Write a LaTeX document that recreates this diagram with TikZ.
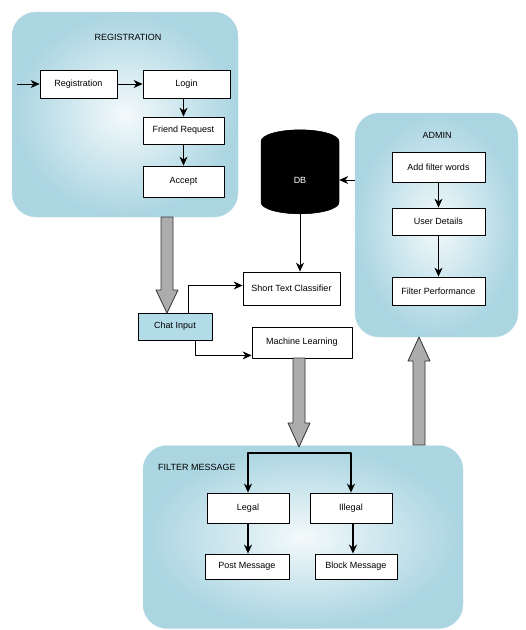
\documentclass[tikz,border=0pt]{standalone}
\usepackage{fontspec}
\setmainfont{Liberation Sans}
\usetikzlibrary{shapes.geometric,calc,arrows.meta}
\definecolor{panelblue}{RGB}{160,208,222}
\definecolor{chatblue}{RGB}{178,220,232}
% fat grey arrow: x, start y, head base y, tip y
\newcommand{\fatarr}[4]{%
	\draw[fatarrow] (#1-6,#2)--(#1+6,#2)--(#1+6,#3)--(#1+11,#3)--(#1,#4)--(#1-11,#3)--(#1-6,#3)--cycle;}
\begin{document}
\begin{tikzpicture}[x=1pt, y=-1pt, font=\fontsize{9}{10}\selectfont, line join=round, >={Stealth[length=9pt,width=8pt]},
	panel/.style={rounded corners=24pt, draw=panelblue!70, inner color=panelblue!12, outer color=panelblue!90, inner sep=0pt},
	box/.style={draw, thick, fill=white, inner sep=1pt},
	fatarrow/.style={draw=black!80, thick, fill=gray!65},
	thk/.style={line width=1.8pt}]
	\useasboundingbox (0,0) rectangle (526,630);
	
	% panels
	\node[panel, minimum width=226pt, minimum height=205pt] (regpanel) at (125,114.5) {};
	\node[panel, minimum width=163pt, minimum height=224pt] (admpanel) at (436.5,225) {};
	\node[panel, minimum width=320pt, minimum height=183pt] (filtpanel) at (303,537) {};
	\node (regtitle) at (128,37) {REGISTRATION};
	\node (admtitle) at (437,135) {ADMIN};
	\node[anchor=west, inner sep=0pt] (filttitle) at (158,467) {FILTER MESSAGE};
	
	% registration
	\node[box, minimum width=77pt, minimum height=28pt] (reg) at (78.5,84) {Registration};
	\node[box, minimum width=87pt, minimum height=28pt] (login) at (186.5,84) {Login};
	\node[box, minimum width=81pt, minimum height=27pt] (friend) at (183.5,130.5) {Friend Request};
	\node[box, minimum width=81pt, minimum height=31pt] (accept) at (183.5,181.5) {Accept};
	\coordinate (start) at (17,84);
	\draw[thick,->] (start)--(reg);
	\draw[thick,->] (reg)--(login);
	\draw[thick,->] (login.south -| friend) --(friend);
	\draw[thick,->] (friend)--(accept);
	
	% database and admin
	\node[cylinder, shape border rotate=90, aspect=1.2, draw, fill=black,
		cylinder uses custom fill, cylinder body fill=black, cylinder end fill=black!70,
		minimum width=78pt, minimum height=84pt, text=white] (db) at (300,180) {DB};
	\node[box, minimum width=93pt, minimum height=30pt] (addfilter) at (438.5,167) {Add filter words};
	\node[box, minimum width=93pt, minimum height=27pt] (user) at (438.5,221.5) {User Details};
	\node[box, minimum width=93pt, minimum height=28pt] (perf) at (438.5,291) {Filter Performance};
	\draw[thick,->] (addfilter)--(user);
	\draw[thick,->] (user)--(perf);
	\draw[thick,->] (admpanel.west |- db.east)--(db.east);
	
	% chat input and classifiers
	\node[box, fill=chatblue, minimum width=74pt, minimum height=27pt] (chat) at (175,326.5) {Chat Input};
	\node[box, minimum width=97pt, minimum height=33pt] (stc) at (291.5,288.5) {Short Text Classifier};
	\node[box, minimum width=100pt, minimum height=31pt] (ml) at (302,342.5) {Machine Learning};
	\draw[thick,->] (db.south)--(db.south |- stc.north);
	\draw[thick,->] ($(chat.north)+(13,0)$) |- ($(stc.west)+(0,-3)$);
	\draw[thick,->] ($(chat.south)+(20,0)$) |- ($(ml.south west)+(0,-3)$);
	
	% filter message
	\node[box, minimum width=82pt, minimum height=30pt] (legal) at (248,508) {Legal};
	\node[box, minimum width=82pt, minimum height=30pt] (illegal) at (351,508) {Illegal};
	\node[box, minimum width=84pt, minimum height=25pt] (post) at (247,566.5) {Post Message};
	\node[box, minimum width=82pt, minimum height=25pt] (block) at (356,566.5) {Block Message};
	\coordinate (branch) at (299,453);
	\draw[thk,->] (branch) -| (legal.north);
	\draw[thk,->] (branch) -| (illegal.north);
	\draw[thk,->] (legal.south)--(legal.south |- post.north);
	\draw[thk,->] ($(illegal.south)+(2,0)$)--($(illegal.south |- block.north)+(2,0)$);
	
	% big arrows
	\fatarr{167}{217}{290}{313}
	\fatarr{299}{358}{423}{447}
	\fatarr{419}{445}{361}{337}
\end{tikzpicture}
\end{document}
